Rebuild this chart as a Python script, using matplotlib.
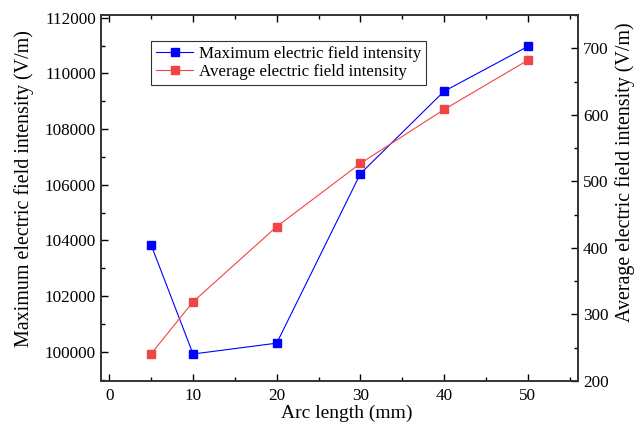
import matplotlib.pyplot as plt
from matplotlib.ticker import MultipleLocator

plt.rcParams['font.family'] = ['Liberation Serif', 'DejaVu Serif']
plt.rcParams['mathtext.fontset'] = 'stix'

arc_length = [5, 10, 20, 30, 40, 50]
max_field = [103830, 99920, 100310, 106400, 109360, 110970]
avg_field = [241, 319, 432, 527, 608, 682]

fig = plt.figure(figsize=(6.41, 4.28), dpi=100)
ax = fig.add_axes([101 / 641, 1 - 381 / 428, 477 / 641, 366 / 428])
ax2 = ax.twinx()

l1, = ax.plot(arc_length, max_field, color='#0000ff', lw=0.8, marker='s',
              markersize=5.5, label='Maximum electric field intensity')
l2, = ax2.plot(arc_length, avg_field, color='#f04545', lw=0.8, marker='s',
               markersize=5.5, label='Average electric field intensity')

ax.set_xlim(-1, 56)
ax.set_ylim(98950, 112100)
ax2.set_ylim(200, 750)

ax.xaxis.set_major_locator(MultipleLocator(10))
ax.xaxis.set_minor_locator(MultipleLocator(5))
ax.yaxis.set_major_locator(MultipleLocator(2000))
ax.yaxis.set_minor_locator(MultipleLocator(1000))
ax2.yaxis.set_major_locator(MultipleLocator(100))
ax2.yaxis.set_minor_locator(MultipleLocator(50))

ax.tick_params(axis='both', which='both', direction='in', labelsize=12.3, top=True)
ax.tick_params(axis='x', which='both', pad=5)
ax.tick_params(which='major', length=5, width=1)
ax.tick_params(which='minor', length=3, width=1)
ax2.tick_params(axis='y', which='both', direction='in', labelsize=12.3)
ax2.tick_params(which='major', length=5, width=1)
ax2.tick_params(which='minor', length=3, width=1)

for a in (ax, ax2):
    for s in a.spines.values():
        s.set_linewidth(1.2)
        s.set_color('#333333')

ax.set_xlabel('Arc length (mm)', fontsize=14)
ax.set_ylabel('Maximum electric field intensity (V/m)', fontsize=14.4)
ax2.set_ylabel('Average electric field intensity (V/m)', fontsize=14.4)
ax.xaxis.set_label_coords(0.516, -0.066)
ax.yaxis.set_label_coords(-0.14, 0.525)
ax2.yaxis.set_label_coords(1.078, 0.571)

leg = ax.legend(handles=[l1, l2], loc='upper left', bbox_to_anchor=(0.105, 0.93),
                fontsize=12.2, frameon=True, fancybox=False, edgecolor='black',
                borderpad=0.3, labelspacing=0.12, handlelength=2.2,
                handletextpad=0.3, borderaxespad=0)
leg.get_frame().set_linewidth(0.8)

fig.savefig('out.png', dpi=100)
